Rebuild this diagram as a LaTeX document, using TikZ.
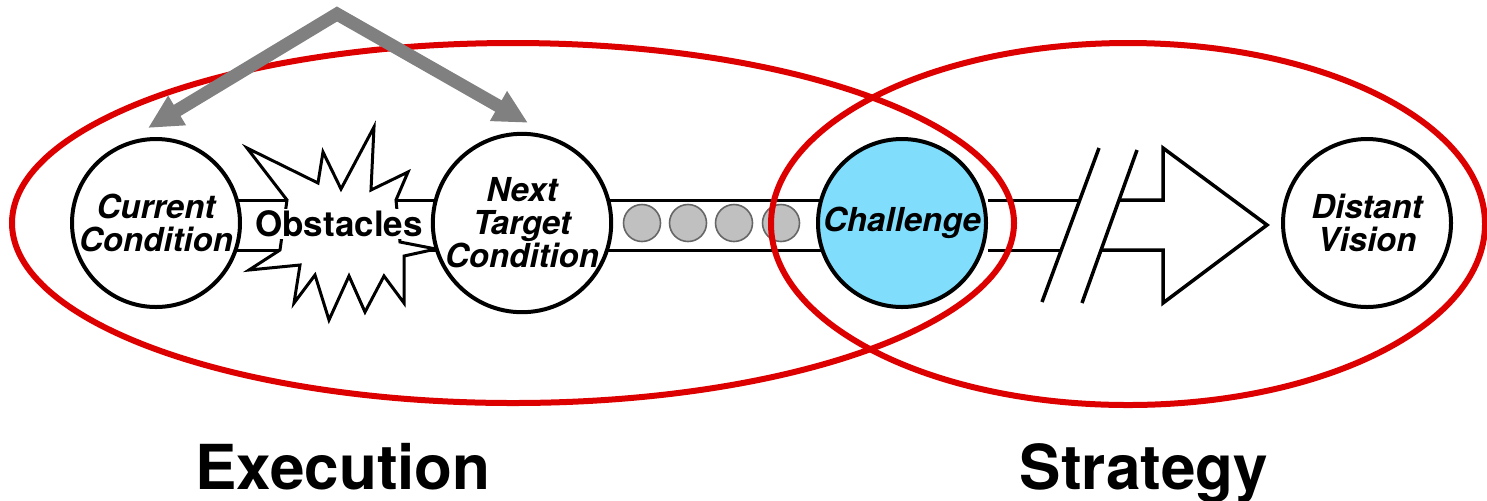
\documentclass[tikz,border=0pt]{standalone}
\usepackage{fontspec}
\setmainfont{TeX Gyre Heros}
\usetikzlibrary{arrows.meta}
\definecolor{ringred}{RGB}{221,0,0}
\definecolor{shaftgray}{RGB}{128,128,128}
\definecolor{ballgray}{RGB}{192,192,192}
\definecolor{challengeblue}{RGB}{128,222,252}
\begin{document}
\begin{tikzpicture}[x=0.5pt,y=-0.5pt,
  stage/.style={circle,draw=black,line width=2pt,fill=white,minimum size=84pt,
    inner sep=0pt,align=center,font=\bfseries\itshape\fontsize{16.5}{16.5}\selectfont},
  pipe/.style={draw=black,line width=1.5pt},
  outline/.style={draw=black,line width=1.75pt,line join=miter},
  burst/.style={draw=black,line width=1.5pt,fill=white,line join=miter},
  ball/.style={circle,draw=black!60,line width=0.8pt,fill=ballgray,minimum size=18.5pt,inner sep=0pt},
  ring/.style={draw=ringred,line width=3pt},
  shaft/.style={draw=shaftgray,line width=6.5pt,line join=miter,
    {Triangle[width=16pt,length=17pt]}-{Triangle[width=16pt,length=17pt]}},
  heading/.style={font=\bfseries\fontsize{31}{31}\selectfont,inner sep=0pt,anchor=base},
]
\useasboundingbox (0,0) rectangle (1487,500);

% rows of the pipe
\coordinate (bandtop) at (0,200);
\coordinate (bandbot) at (0,250);

% stage positions
\coordinate (pcc) at (156,223);
\coordinate (pntc) at (522,223);
\coordinate (pch) at (902,223);
\coordinate (pdv) at (1367,223);

% pipe from current condition to challenge
\draw[pipe] (pcc |- bandtop) -- (pch |- bandtop);
\draw[pipe] (pcc |- bandbot) -- (pch |- bandbot);

% obstacles burst
\draw[burst] (287,200) -- (247,148) -- (318,183) -- (323,152) -- (341,189)
  -- (374,127) -- (371,190) -- (408,172) -- (396,200) -- (400,242)
  -- (436,249) -- (404,256) -- (404,303) -- (384,276) -- (365,312)
  -- (349,276) -- (329,320) -- (315,275) -- (294,303) -- (300,265)
  -- (249,270) -- (280,250) -- cycle;
\node[fill=white,inner sep=1pt,font=\bfseries\fontsize{17.5}{17.5}\selectfont] (obs) at (339,224) {Obstacles};

% stages
\node[stage] (cc) at (pcc) {Current\\Condition};
\node[stage] (ntc) at (pntc) {Next\\Target\\Condition};
\node[stage,fill=challengeblue] (ch) at (pch) {Challenge};
\node[stage] (dv) at (pdv) {Distant\\Vision};

% steps between target condition and challenge
\node[ball] (b1) at (642,223) {};
\node[ball] (b2) at (688,223) {};
\node[ball] (b3) at (734,223) {};
\node[ball] (b4) at (781,223) {};

% long way from challenge to vision, with a break
\coordinate (s1top) at (1099,148);
\coordinate (s1bot) at (1042,302);
\coordinate (s2top) at (1137,150);
\coordinate (s2bot) at (1082,303);
\draw[pipe] (ch.east |- bandtop) -- (intersection of s1top--s1bot and bandtop--ch.east |- bandtop);
\draw[pipe] (ch.east |- bandbot) -- (intersection of s1top--s1bot and bandbot--ch.east |- bandbot);
\draw[outline] (intersection of s2top--s2bot and bandtop--ch.east |- bandtop)
  -- (1163,200) -- (1163,148) -- (1267,225) -- (1163,303) -- (1163,250)
  -- (intersection of s2top--s2bot and bandbot--ch.east |- bandbot);
\draw[outline] (s1top) -- (s1bot);
\draw[outline] (s2top) -- (s2bot);

% execution and strategy rings
\draw[ring] (513,223) ellipse [x radius=501, y radius=180];
\draw[ring] (1128,224) ellipse [x radius=357, y radius=181];

% cycle between current and next target condition
\coordinate (apex) at (337,14);
\draw[shaft] ([shift={(-8,-9)}]cc.north) -- (apex) -- ([shift={(6,-9)}]ntc.north);

% headings
\node[heading] (exec) at (343,489) {Execution};
\node[heading] (strat) at (1144,489) {Strategy};
\end{tikzpicture}
\end{document}
